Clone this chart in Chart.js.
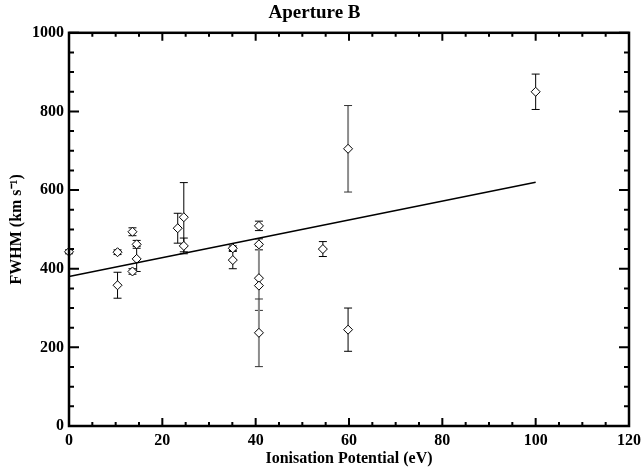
<!DOCTYPE html>
<html>
<head>
<meta charset="utf-8">
<script src="https://cdn.jsdelivr.net/npm/chart.js@4"></script>
<style>
  body { margin: 0; background: #fff; }
</style>
</head>
<body>
<canvas id="chart" width="642" height="468"></canvas>
<script>
// ionisation potential (eV) of each line, its FWHM (km/s) and the 1-sigma error
const potentials = [0, 10.4, 10.4, 13.6, 13.6, 14.5, 14.5, 23.3, 24.6, 24.6, 35.1, 35.1, 40.7, 40.7, 40.7, 40.7, 40.7, 54.4, 59.8, 59.8, 100];
const fwhm       = [443, 442, 358, 393, 494, 462, 425, 503, 531, 458, 452, 422, 509, 462, 376, 357, 237, 450, 705, 245, 850];
const fwhmErr    = [5, 6, 33, 7, 10, 10, 32, 38, 88, 20, 6, 22, 12, 14, 82, 0, 86, 19, 110, 55, 45];

// linear fit
const fitX = [0, 100];
const fitY = [380, 620];

const xTicks = [0, 20, 40, 60, 80, 100, 120];
const yTicks = [0, 200, 400, 600, 800, 1000];

// error bars drawn in grey (by point index)
const greyBars = [14, 16, 18];

const serif = '"Liberation Serif", "Times New Roman", serif';

const errorBars = {
  id: 'errorBars',
  beforeDatasetsDraw(chart) {
    const { ctx, scales: { x, y } } = chart;
    ctx.save();
    potentials.forEach((p, i) => {
      if (!fwhmErr[i]) return;
      const px = x.getPixelForValue(p);
      const top = y.getPixelForValue(fwhm[i] + fwhmErr[i]);
      const bot = y.getPixelForValue(fwhm[i] - fwhmErr[i]);
      const grey = greyBars.includes(i);
      ctx.strokeStyle = grey ? '#8c8c8c' : '#000';
      ctx.lineWidth = grey ? 2 : 1;
      ctx.beginPath();
      ctx.moveTo(px, top); ctx.lineTo(px, bot);
      ctx.stroke();
      ctx.strokeStyle = grey ? '#333' : '#000';
      ctx.lineWidth = 1;
      ctx.beginPath();
      ctx.moveTo(px - 4, top); ctx.lineTo(px + 4, top);
      ctx.moveTo(px - 4, bot); ctx.lineTo(px + 4, bot);
      ctx.stroke();
    });
    ctx.restore();
  }
};

const frame = {
  id: 'frame',
  afterDraw(chart) {
    const { ctx, chartArea: a, scales: { x, y } } = chart;
    ctx.save();
    ctx.strokeStyle = '#000';
    ctx.lineWidth = 2;
    ctx.beginPath();
    for (let v = 0; v <= 120; v += 5) {
      const px = x.getPixelForValue(v);
      const len = v % 20 === 0 ? 8 : 4;
      ctx.moveTo(px, a.bottom); ctx.lineTo(px, a.bottom - len);
      ctx.moveTo(px, a.top); ctx.lineTo(px, a.top + len);
    }
    for (let v = 0; v <= 1000; v += 50) {
      const py = y.getPixelForValue(v);
      const len = v % 200 === 0 ? 10 : 5;
      ctx.moveTo(a.left, py); ctx.lineTo(a.left + len, py);
      ctx.moveTo(a.right, py); ctx.lineTo(a.right - len, py);
    }
    ctx.stroke();
    ctx.lineWidth = 2.5;
    ctx.strokeRect(a.left, a.top, a.right - a.left, a.bottom - a.top);
    ctx.restore();
  }
};

const tickFont = { family: serif, size: 16, weight: 'bold' };

new Chart(document.getElementById('chart'), {
  type: 'scatter',
  data: {
    datasets: [
      {
        label: 'fit',
        data: fitX.map((v, i) => ({ x: v, y: fitY[i] })),
        showLine: true,
        borderColor: '#000',
        borderWidth: 1.5,
        pointRadius: 0
      },
      {
        label: 'FWHM',
        data: potentials.map((v, i) => ({ x: v, y: fwhm[i] })),
        pointStyle: 'rectRot',
        pointRadius: 4.5,
        borderColor: '#000',
        backgroundColor: '#fff',
        borderWidth: 1
      }
    ]
  },
  options: {
    responsive: false,
    animation: false,
    clip: false,
    layout: { autoPadding: false, padding: { top: 0, right: 13, bottom: 0, left: 0 } },
    plugins: {
      legend: { display: false },
      tooltip: { enabled: false },
      title: {
        display: true,
        text: 'Aperture B',
        color: '#000',
        font: { family: serif, size: 19, weight: 'bold' },
        padding: { top: 2, bottom: 8 }
      }
    },
    scales: {
      x: {
        type: 'linear',
        min: 0, max: 120,
        afterFit: (s) => { s.height = 42; s.paddingLeft = 0; s.paddingRight = 0; },
        afterBuildTicks: (s) => { s.ticks = xTicks.map(v => ({ value: v })); },
        grid: { display: false, drawTicks: false },
        border: { display: false },
        ticks: { color: '#000', padding: 5, font: tickFont, callback: (v) => String(v) },
        title: {
          display: true,
          text: 'Ionisation Potential (eV)',
          color: '#000',
          font: { family: serif, size: 16, weight: 'bold' },
          padding: { top: 0, bottom: 0 }
        }
      },
      y: {
        type: 'linear',
        min: 0, max: 1000,
        afterFit: (s) => { s.width = 69; s.paddingTop = 0; s.paddingBottom = 0; },
        afterBuildTicks: (s) => { s.ticks = yTicks.map(v => ({ value: v })); },
        grid: { display: false, drawTicks: false },
        border: { display: false },
        ticks: { color: '#000', padding: 5, font: tickFont, callback: (v) => String(v) },
        title: {
          display: true,
          text: 'FWHM (km s⁻¹)',
          color: '#000',
          font: { family: serif, size: 16, weight: 'bold' },
          padding: { top: 7, bottom: 0 }
        }
      }
    }
  },
  plugins: [errorBars, frame]
});
</script>
</body>
</html>
